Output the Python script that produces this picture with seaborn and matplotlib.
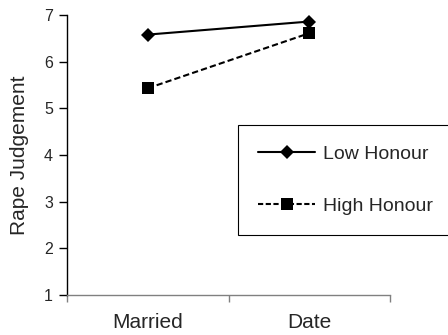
import matplotlib
matplotlib.use("Agg")
import matplotlib.pyplot as plt
import seaborn as sns
import pandas as pd

conditions = ["Married", "Date"]
low_honour = [6.58, 6.86]
high_honour = [5.43, 6.61]
series_names = ["Low Honour", "High Honour"]
y_ticks = [1, 2, 3, 4, 5, 6, 7]

df = pd.DataFrame({
    "Condition": conditions * 2,
    "Value": low_honour + high_honour,
    "Group": [series_names[0]] * 2 + [series_names[1]] * 2,
})

sns.set_style("white")
plt.rcParams["font.family"] = ["Liberation Sans", "DejaVu Sans"]

fig = plt.figure(figsize=(4.48, 3.35), dpi=100)
ax = fig.add_axes([67 / 448, 1 - 295 / 335, (390 - 67) / 448, (295 - 15) / 335])

sns.lineplot(
    data=df, x="Condition", y="Value", style="Group",
    markers={"Low Honour": "D", "High Honour": "s"},
    dashes={"Low Honour": "", "High Honour": (3, 1.5)},
    color="black", linewidth=1.5, markersize=8, markeredgewidth=0,
    ax=ax, legend=True,
)
for line in ax.get_lines():
    if line.get_marker() == "D":
        line.set_markersize(7.5)
    elif line.get_marker() == "s":
        line.set_markersize(9)

ax.set_xlim(-0.5, 1.5)
ax.set_ylim(1, 7)
ax.set_yticks(y_ticks)
ax.set_yticklabels([str(t) for t in y_ticks], fontsize=11.5)
ax.set_xticks([-0.5, 0.5, 1.5])
ax.set_xticklabels(["", "", ""])
ax.set_xticks([0, 1], minor=True)
ax.set_xticklabels(conditions, minor=True, fontsize=15)
ax.tick_params(axis="x", which="minor", bottom=False, length=0, pad=13)
ax.tick_params(axis="x", which="major", bottom=True, length=5, width=1,
               color="#808080", direction="out")
ax.tick_params(axis="y", which="major", left=True, length=6, width=1,
               color="black", direction="out", pad=4)
ax.set_xlabel("")
ax.set_ylabel("Rape Judgement", fontsize=15, labelpad=11)

for s in ["top", "right"]:
    ax.spines[s].set_visible(False)
ax.spines["left"].set_color("black")
ax.spines["left"].set_linewidth(1)
ax.spines["bottom"].set_color("#808080")
ax.spines["bottom"].set_linewidth(1)

handles, labels = ax.get_legend_handles_labels()
ax.get_legend().remove()
for h in handles:
    if h.get_marker() == "D":
        h.set_markersize(7.5)
    elif h.get_marker() == "s":
        h.set_markersize(9)
    if h.get_linestyle() not in ("-", "solid"):
        h.set_dashes((2.5, 1.2))
leg = fig.legend(
    handles, labels, loc="upper left",
    bbox_to_anchor=(238 / 448, 1 - 125 / 335), borderaxespad=0,
    fontsize=14, frameon=True, fancybox=False, shadow=False,
    handlelength=2.9, handletextpad=0.4, labelspacing=1.75, borderpad=1.05,
)
leg.get_frame().set_edgecolor("black")
leg.get_frame().set_linewidth(0.8)
leg.get_frame().set_facecolor("white")
leg.get_frame().set_alpha(1)

fig.savefig("out.png", dpi=100)
